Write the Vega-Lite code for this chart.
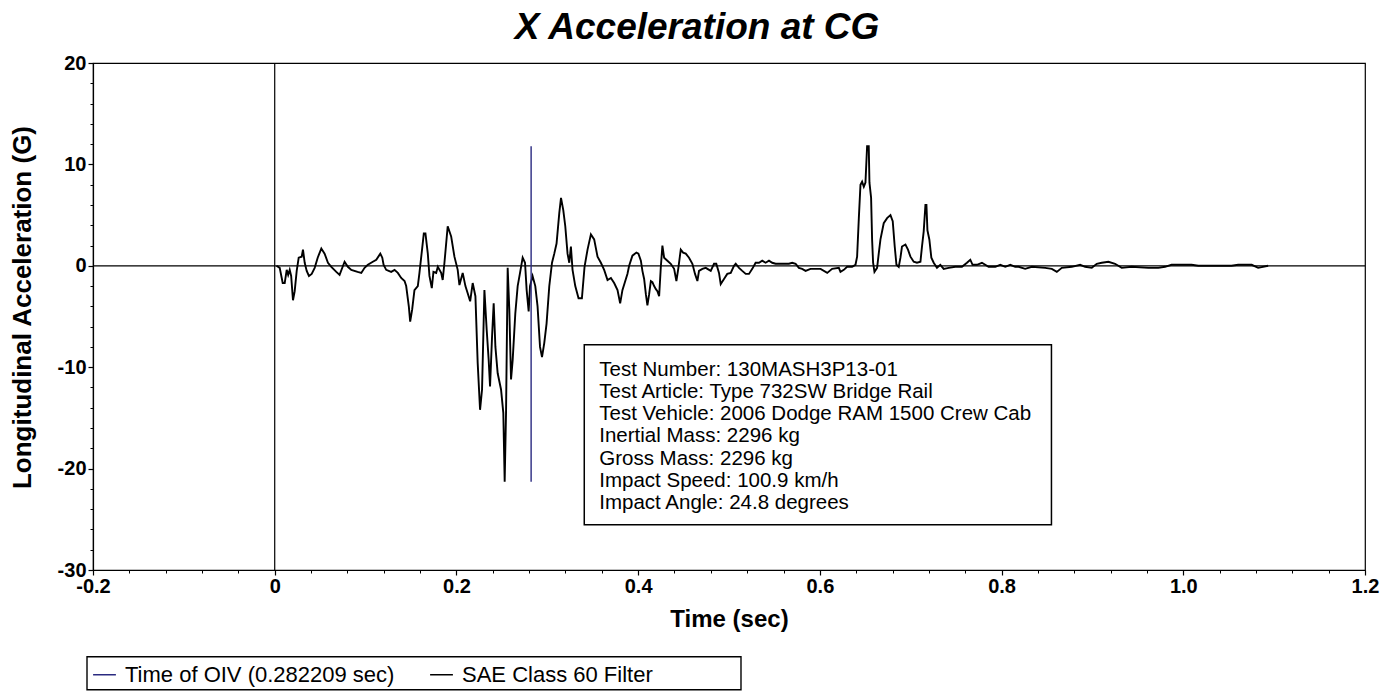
{
  "$schema": "https://vega.github.io/schema/vega-lite/v6.json",
  "width": 1272,
  "height": 507,
  "autosize": {"type": "none"},
  "padding": {"left": 93, "top": 63, "right": 20, "bottom": 123},
  "background": "white",
  "title": {
    "text": "X Acceleration at CG",
    "font": "Liberation Sans",
    "fontSize": 37,
    "fontWeight": "bold",
    "fontStyle": "italic",
    "color": "black",
    "anchor": "middle",
    "dx": -32,
    "offset": 6
  },
  "config": {
    "view": {"stroke": "black", "strokeWidth": 1.2},
    "axis": {
      "labelFont": "Liberation Sans",
      "titleFont": "Liberation Sans",
      "labelColor": "black",
      "titleColor": "black",
      "domainColor": "black",
      "tickColor": "black",
      "grid": false
    },
    "legend": {
      "labelFont": "Liberation Sans",
      "labelColor": "black"
    }
  },
  "resolve": {"axis": {"x": "independent", "y": "independent"}},
  "data": {
    "values": [
      {"t": 0.0019, "g": 0.0}, {"t": 0.0055, "g": -0.2}, {"t": 0.0088, "g": -1.7}, {"t": 0.0110, "g": -1.7},
      {"t": 0.0132, "g": -0.4}, {"t": 0.0148, "g": -0.9}, {"t": 0.0165, "g": -0.4}, {"t": 0.0181, "g": -1.0},
      {"t": 0.0201, "g": -3.4}, {"t": 0.0220, "g": -2.5}, {"t": 0.0242, "g": -0.5}, {"t": 0.0264, "g": 0.8},
      {"t": 0.0297, "g": 0.9}, {"t": 0.0311, "g": 1.6}, {"t": 0.0330, "g": 0.3}, {"t": 0.0352, "g": -0.5},
      {"t": 0.0377, "g": -1.0}, {"t": 0.0407, "g": -0.8}, {"t": 0.0440, "g": -0.2}, {"t": 0.0473, "g": 0.8},
      {"t": 0.0513, "g": 1.7}, {"t": 0.0549, "g": 1.2}, {"t": 0.0586, "g": 0.3}, {"t": 0.0623, "g": -0.1},
      {"t": 0.0678, "g": -0.6}, {"t": 0.0714, "g": -0.9}, {"t": 0.0769, "g": 0.4}, {"t": 0.0805, "g": -0.1},
      {"t": 0.0843, "g": -0.4}, {"t": 0.0912, "g": -0.6}, {"t": 0.0953, "g": -0.7}, {"t": 0.0989, "g": -0.2},
      {"t": 0.1025, "g": 0.1}, {"t": 0.1080, "g": 0.4}, {"t": 0.1118, "g": 0.6}, {"t": 0.1162, "g": 1.2},
      {"t": 0.1184, "g": 0.8}, {"t": 0.1198, "g": 0.1}, {"t": 0.1227, "g": -0.4}, {"t": 0.1282, "g": -0.6},
      {"t": 0.1319, "g": -0.4}, {"t": 0.1355, "g": -0.7}, {"t": 0.1392, "g": -1.2}, {"t": 0.1429, "g": -1.5},
      {"t": 0.1447, "g": -2.0}, {"t": 0.1476, "g": -4.0}, {"t": 0.1491, "g": -5.5}, {"t": 0.1513, "g": -4.3},
      {"t": 0.1538, "g": -2.4}, {"t": 0.1575, "g": -2.0}, {"t": 0.1593, "g": -0.7}, {"t": 0.1619, "g": 1.4},
      {"t": 0.1641, "g": 3.2}, {"t": 0.1659, "g": 3.2}, {"t": 0.1685, "g": 1.2}, {"t": 0.1703, "g": -1.0},
      {"t": 0.1729, "g": -2.2}, {"t": 0.1747, "g": -0.6}, {"t": 0.1777, "g": -0.7}, {"t": 0.1795, "g": -0.1},
      {"t": 0.1832, "g": -0.7}, {"t": 0.1849, "g": -1.4}, {"t": 0.1868, "g": 0.3}, {"t": 0.1904, "g": 3.9},
      {"t": 0.1942, "g": 2.9}, {"t": 0.1978, "g": 0.9}, {"t": 0.2014, "g": -0.4}, {"t": 0.2033, "g": -1.9},
      {"t": 0.2069, "g": -0.7}, {"t": 0.2099, "g": -2.0}, {"t": 0.2124, "g": -2.7}, {"t": 0.2151, "g": -3.5},
      {"t": 0.2179, "g": -1.7}, {"t": 0.2209, "g": -3.0}, {"t": 0.2234, "g": -9.6}, {"t": 0.2260, "g": -14.2},
      {"t": 0.2282, "g": -12.2}, {"t": 0.2308, "g": -2.4}, {"t": 0.2333, "g": -6.3}, {"t": 0.2355, "g": -9.3},
      {"t": 0.2370, "g": -11.9}, {"t": 0.2392, "g": -7.0}, {"t": 0.2410, "g": -3.7}, {"t": 0.2429, "g": -8.0},
      {"t": 0.2454, "g": -10.6}, {"t": 0.2491, "g": -12.2}, {"t": 0.2516, "g": -14.5}, {"t": 0.2531, "g": -21.3},
      {"t": 0.2546, "g": -14.5}, {"t": 0.2564, "g": -0.2}, {"t": 0.2582, "g": -4.3}, {"t": 0.2601, "g": -11.2},
      {"t": 0.2619, "g": -9.3}, {"t": 0.2648, "g": -4.7}, {"t": 0.2674, "g": -2.0}, {"t": 0.2700, "g": -0.7},
      {"t": 0.2729, "g": 0.8}, {"t": 0.2755, "g": 0.3}, {"t": 0.2773, "g": -2.4}, {"t": 0.2795, "g": -4.5},
      {"t": 0.2810, "g": -2.0}, {"t": 0.2838, "g": -1.0}, {"t": 0.2868, "g": -2.0}, {"t": 0.2893, "g": -4.0},
      {"t": 0.2920, "g": -8.0}, {"t": 0.2942, "g": -9.0}, {"t": 0.2967, "g": -7.6}, {"t": 0.2992, "g": -5.7},
      {"t": 0.3022, "g": -2.0}, {"t": 0.3052, "g": 0.3}, {"t": 0.3077, "g": 1.2}, {"t": 0.3102, "g": 2.2},
      {"t": 0.3132, "g": 5.2}, {"t": 0.3151, "g": 6.7}, {"t": 0.3176, "g": 5.5}, {"t": 0.3198, "g": 3.9},
      {"t": 0.3223, "g": 1.2}, {"t": 0.3242, "g": 0.3}, {"t": 0.3260, "g": 1.9}, {"t": 0.3278, "g": -0.4},
      {"t": 0.3308, "g": -2.0}, {"t": 0.3344, "g": -3.2}, {"t": 0.3381, "g": -3.2}, {"t": 0.3410, "g": -0.1},
      {"t": 0.3443, "g": 1.6}, {"t": 0.3480, "g": 3.1}, {"t": 0.3516, "g": 2.6}, {"t": 0.3553, "g": 0.9},
      {"t": 0.3590, "g": 0.3}, {"t": 0.3626, "g": -0.4}, {"t": 0.3663, "g": -1.4}, {"t": 0.3700, "g": -1.2},
      {"t": 0.3736, "g": -1.7}, {"t": 0.3773, "g": -2.4}, {"t": 0.3802, "g": -3.7}, {"t": 0.3827, "g": -2.4},
      {"t": 0.3865, "g": -1.3}, {"t": 0.3882, "g": -0.8}, {"t": 0.3901, "g": 0.0}, {"t": 0.3937, "g": 1.0},
      {"t": 0.3981, "g": 1.3}, {"t": 0.4003, "g": 1.2}, {"t": 0.4030, "g": 0.5}, {"t": 0.4047, "g": -0.5},
      {"t": 0.4066, "g": -1.3}, {"t": 0.4085, "g": -2.8}, {"t": 0.4102, "g": -3.9}, {"t": 0.4121, "g": -2.8},
      {"t": 0.4140, "g": -1.5}, {"t": 0.4157, "g": -1.6}, {"t": 0.4176, "g": -2.0}, {"t": 0.4195, "g": -2.3},
      {"t": 0.4212, "g": -2.5}, {"t": 0.4231, "g": -3.0}, {"t": 0.4249, "g": -0.2}, {"t": 0.4267, "g": 2.0},
      {"t": 0.4286, "g": 0.8}, {"t": 0.4322, "g": 0.5}, {"t": 0.4359, "g": 0.2}, {"t": 0.4396, "g": -0.3},
      {"t": 0.4421, "g": -1.5}, {"t": 0.4443, "g": -0.2}, {"t": 0.4469, "g": 1.6}, {"t": 0.4495, "g": 1.3},
      {"t": 0.4524, "g": 1.2}, {"t": 0.4560, "g": 0.8}, {"t": 0.4597, "g": 0.2}, {"t": 0.4626, "g": -0.8},
      {"t": 0.4652, "g": -1.5}, {"t": 0.4670, "g": -0.5}, {"t": 0.4707, "g": -0.3}, {"t": 0.4744, "g": -0.2},
      {"t": 0.4799, "g": -0.5}, {"t": 0.4835, "g": 0.2}, {"t": 0.4860, "g": 0.2}, {"t": 0.4890, "g": -0.7},
      {"t": 0.4909, "g": -1.8}, {"t": 0.4945, "g": -1.3}, {"t": 0.4981, "g": -0.8}, {"t": 0.5019, "g": -0.7},
      {"t": 0.5055, "g": 0.0}, {"t": 0.5074, "g": 0.2}, {"t": 0.5110, "g": -0.2}, {"t": 0.5146, "g": -0.5},
      {"t": 0.5184, "g": -0.8}, {"t": 0.5220, "g": -0.8}, {"t": 0.5256, "g": -0.3}, {"t": 0.5293, "g": 0.3},
      {"t": 0.5330, "g": 0.3}, {"t": 0.5366, "g": 0.5}, {"t": 0.5403, "g": 0.3}, {"t": 0.5440, "g": 0.5},
      {"t": 0.5476, "g": 0.3}, {"t": 0.5513, "g": 0.2}, {"t": 0.5586, "g": 0.2}, {"t": 0.5659, "g": 0.2},
      {"t": 0.5696, "g": 0.3}, {"t": 0.5733, "g": 0.2}, {"t": 0.5769, "g": -0.2}, {"t": 0.5805, "g": -0.3},
      {"t": 0.5843, "g": -0.5}, {"t": 0.5897, "g": -0.3}, {"t": 0.5953, "g": -0.3}, {"t": 0.6008, "g": -0.3},
      {"t": 0.6081, "g": -0.7}, {"t": 0.6135, "g": -0.3}, {"t": 0.6209, "g": -0.2}, {"t": 0.6227, "g": -0.6},
      {"t": 0.6264, "g": -0.4}, {"t": 0.6300, "g": -0.1}, {"t": 0.6355, "g": -0.1}, {"t": 0.6392, "g": 0.1},
      {"t": 0.6410, "g": 0.9}, {"t": 0.6429, "g": 4.7}, {"t": 0.6447, "g": 8.0}, {"t": 0.6465, "g": 8.3},
      {"t": 0.6484, "g": 7.8}, {"t": 0.6502, "g": 8.2}, {"t": 0.6520, "g": 11.8}, {"t": 0.6538, "g": 11.8},
      {"t": 0.6546, "g": 8.2}, {"t": 0.6564, "g": 6.7}, {"t": 0.6575, "g": 2.6}, {"t": 0.6586, "g": 0.3},
      {"t": 0.6601, "g": -0.6}, {"t": 0.6630, "g": -0.2}, {"t": 0.6648, "g": 1.2}, {"t": 0.6667, "g": 2.6},
      {"t": 0.6703, "g": 4.2}, {"t": 0.6740, "g": 4.7}, {"t": 0.6777, "g": 5.0}, {"t": 0.6802, "g": 4.4},
      {"t": 0.6824, "g": 1.9}, {"t": 0.6843, "g": 0.1}, {"t": 0.6868, "g": -0.1}, {"t": 0.6887, "g": 0.8},
      {"t": 0.6904, "g": 1.9}, {"t": 0.6942, "g": 2.1}, {"t": 0.6970, "g": 1.6}, {"t": 0.6997, "g": 0.9},
      {"t": 0.7033, "g": 0.4}, {"t": 0.7069, "g": 0.3}, {"t": 0.7107, "g": 0.4}, {"t": 0.7124, "g": 1.9},
      {"t": 0.7143, "g": 3.4}, {"t": 0.7162, "g": 6.0}, {"t": 0.7173, "g": 6.0}, {"t": 0.7184, "g": 3.5},
      {"t": 0.7205, "g": 2.6}, {"t": 0.7227, "g": 0.8}, {"t": 0.7253, "g": 0.3}, {"t": 0.7289, "g": -0.2},
      {"t": 0.7326, "g": 0.1}, {"t": 0.7363, "g": -0.3}, {"t": 0.7418, "g": -0.2}, {"t": 0.7491, "g": -0.1},
      {"t": 0.7564, "g": -0.1}, {"t": 0.7619, "g": 0.3}, {"t": 0.7656, "g": 0.6}, {"t": 0.7681, "g": 0.1},
      {"t": 0.7729, "g": 0.1}, {"t": 0.7784, "g": 0.3}, {"t": 0.7857, "g": -0.1}, {"t": 0.7931, "g": -0.1},
      {"t": 0.7986, "g": 0.1}, {"t": 0.8041, "g": -0.1}, {"t": 0.8096, "g": 0.1}, {"t": 0.8150, "g": -0.1},
      {"t": 0.8187, "g": -0.1}, {"t": 0.8260, "g": -0.3}, {"t": 0.8333, "g": -0.1}, {"t": 0.8480, "g": -0.2},
      {"t": 0.8553, "g": -0.3}, {"t": 0.8608, "g": -0.6}, {"t": 0.8663, "g": -0.2}, {"t": 0.8773, "g": -0.1},
      {"t": 0.8865, "g": 0.1}, {"t": 0.8920, "g": -0.1}, {"t": 0.8993, "g": -0.2}, {"t": 0.9048, "g": 0.2},
      {"t": 0.9103, "g": 0.3}, {"t": 0.9176, "g": 0.4}, {"t": 0.9249, "g": 0.2}, {"t": 0.9322, "g": -0.2},
      {"t": 0.9432, "g": -0.1}, {"t": 0.9615, "g": -0.2}, {"t": 0.9725, "g": -0.2}, {"t": 0.9799, "g": -0.1},
      {"t": 0.9871, "g": 0.1}, {"t": 1.0091, "g": 0.1}, {"t": 1.0165, "g": 0.0}, {"t": 1.0531, "g": 0.0},
      {"t": 1.0604, "g": 0.1}, {"t": 1.0753, "g": 0.1}, {"t": 1.0824, "g": -0.2}, {"t": 1.0934, "g": 0.0}
    ]
  },
  "layer": [
    {
      "data": {"values": [{}]},
      "mark": {"type": "rect", "fill": "white", "stroke": "black", "strokeWidth": 1.5},
      "encoding": {
        "x": {"datum": 0.3407, "type": "quantitative", "scale": {"domain": [-0.2, 1.2], "nice": false, "zero": false}, "axis": null},
        "x2": {"datum": 0.8549},
        "y": {"datum": -7.79, "type": "quantitative", "scale": {"domain": [-30, 20], "nice": false, "zero": false}, "axis": null},
        "y2": {"datum": -25.54}
      }
    },
    {
      "data": {"values": [{}]},
      "mark": {"type": "rect", "fill": "white", "stroke": "black", "strokeWidth": 1.4, "clip": false},
      "encoding": {
        "x": {"datum": -0.2066, "type": "quantitative", "axis": null},
        "x2": {"datum": 0.5132},
        "y": {"datum": -38.56, "type": "quantitative", "axis": null},
        "y2": {"datum": -41.81}
      }
    },
    {
      "data": {"values": [{}]},
      "mark": {"type": "rule", "color": "black", "strokeWidth": 1.2},
      "encoding": {
        "x": {"datum": 0, "type": "quantitative", "axis": null}
      }
    },
    {
      "data": {"values": [{}]},
      "mark": {"type": "rule", "color": "black", "strokeWidth": 1.2},
      "encoding": {
        "y": {"datum": 0, "type": "quantitative", "axis": null}
      }
    },
    {
      "mark": {"type": "line", "strokeWidth": 1.9, "interpolate": "linear"},
      "encoding": {
        "x": {
          "field": "t", "type": "quantitative",
          "axis": {
            "orient": "bottom",
            "values": [-0.2, 0, 0.2, 0.4, 0.6, 0.8, 1.0, 1.2],
            "labelExpr": "datum.value == 0 ? '0' : replace(format(datum.value, '.1f'), '\u2212', '-')",
            "labelFontSize": 20, "labelFontWeight": "bold", "labelPadding": 1,
            "tickSize": 5, "tickWidth": 1.2, "domainWidth": 1.2,
            "title": "Time (sec)", "titleFontSize": 24, "titleFontWeight": "bold", "titlePadding": 11,
            "labelFlush": false, "labelOverlap": false
          }
        },
        "y": {
          "field": "g", "type": "quantitative",
          "axis": {
            "orient": "left",
            "values": [-30, -20, -10, 0, 10, 20],
            "labelExpr": "replace(format(datum.value, 'd'), '\u2212', '-')",
            "labelFontSize": 20, "labelFontWeight": "bold", "labelPadding": 2,
            "tickSize": 5, "tickWidth": 1.2, "domainWidth": 1.2,
            "title": "Longitudinal Acceleration (G)", "titleFontSize": 26, "titleFontWeight": "bold", "titlePadding": 22,
            "titleY": 244,
            "labelFlush": false, "labelOverlap": false
          }
        },
        "color": {
          "datum": "SAE Class 60 Filter",
          "type": "nominal",
          "scale": {"domain": ["Time of OIV (0.282209 sec)", "SAE Class 60 Filter"], "range": ["#2a2a80", "#000000"]},
          "legend": {
            "title": null,
            "orient": "none",
            "legendX": -6,
            "legendY": 594,
            "direction": "horizontal",
            "columns": 2,
            "padding": 5,
            "symbolType": "stroke",
            "symbolSize": 520,
            "symbolStrokeWidth": 1.5,
            "labelFontSize": 22,
            "labelLimit": 800,
            "labelOffset": 8,
            "columnPadding": 32
          }
        }
      }
    },
    {
      "data": {"values": [{}]},
      "mark": {"type": "rule", "strokeWidth": 1.4},
      "encoding": {
        "x": {"datum": 0.282209, "type": "quantitative", "axis": null},
        "y": {"datum": 11.8, "type": "quantitative", "axis": null},
        "y2": {"datum": -21.3},
        "color": {"datum": "Time of OIV (0.282209 sec)", "type": "nominal"}
      }
    },
    {
      "data": {"values": [{}]},
      "mark": {
        "type": "text",
        "text": [
          "Test Number: 130MASH3P13-01",
          "Test Article: Type 732SW Bridge Rail",
          "Test Vehicle: 2006 Dodge RAM 1500 Crew Cab",
          "Inertial Mass: 2296 kg",
          "Gross Mass: 2296 kg",
          "Impact Speed: 100.9 km/h",
          "Impact Angle: 24.8 degrees"
        ],
        "font": "Liberation Sans",
        "fontSize": 20.5,
        "lineHeight": 22.3,
        "align": "left",
        "baseline": "alphabetic",
        "color": "black"
      },
      "encoding": {
        "x": {"datum": 0.3572, "type": "quantitative", "axis": null},
        "y": {"datum": -10.82, "type": "quantitative", "axis": null}
      }
    },
    {
      "data": {"values": [{"t": 0, "g": 0}]},
      "mark": {"type": "point", "opacity": 0},
      "encoding": {
        "x": {
          "field": "t", "type": "quantitative",
          "axis": {
            "orient": "bottom",
            "values": [-0.16, -0.12, -0.08, -0.04, 0.04, 0.08, 0.12, 0.16, 0.24, 0.28, 0.32, 0.36, 0.44, 0.48, 0.52, 0.56, 0.64, 0.68, 0.72, 0.76, 0.84, 0.88, 0.92, 0.96, 1.04, 1.08, 1.12, 1.16],
            "labels": false, "domain": false, "title": null, "tickSize": 3, "tickWidth": 1
          }
        },
        "y": {
          "field": "g", "type": "quantitative",
          "axis": {
            "orient": "left",
            "values": [-28, -26, -24, -22, -18, -16, -14, -12, -8, -6, -4, -2, 2, 4, 6, 8, 12, 14, 16, 18],
            "labels": false, "domain": false, "title": null, "tickSize": 3, "tickWidth": 1
          }
        }
      }
    }
  ]
}
